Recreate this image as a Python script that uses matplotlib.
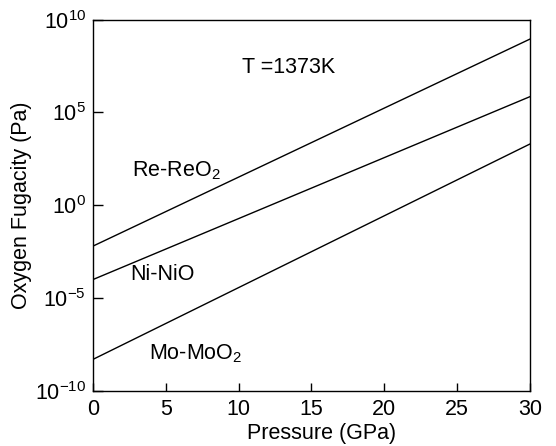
import numpy as np
import matplotlib
matplotlib.use("Agg")
import matplotlib.pyplot as plt
from matplotlib.ticker import NullLocator, FixedLocator

plt.rcParams['font.family'] = ['Liberation Sans', 'DejaVu Sans']
plt.rcParams['mathtext.fontset'] = 'custom'
plt.rcParams['mathtext.rm'] = 'Liberation Sans'
plt.rcParams['mathtext.it'] = 'Liberation Sans:italic'

# buffer end points (pressure in GPa, log10 fO2 in Pa)
pressure = [0, 30]
re_reo2 = [-2.2, 8.95]
ni_nio = [-4.0, 5.85]
mo_moo2 = [-8.3, 3.3]

FS = 15.5

fig = plt.figure(figsize=(5.56, 4.46), dpi=100)
ax = fig.add_axes([0.167, 0.1233, 0.786, 0.8327])

for vals in (re_reo2, ni_nio, mo_moo2):
    ax.plot(pressure, 10.0 ** np.array(vals), color='black', lw=1.0)

# labels (baseline positions)
ax.text(2.7, 10**1.54, "Re-ReO$_2$", fontsize=FS, ha='left', va='baseline')
ax.text(2.6, 10**-4.02, "Ni-NiO", fontsize=FS, ha='left', va='baseline')
ax.text(3.85, 10**-8.29, "Mo-MoO$_2$", fontsize=FS, ha='left', va='baseline')

ax.text(0.342, 0.856, "T =1373K", transform=ax.transAxes, fontsize=FS,
        ha='left', va='baseline')

ax.set_yscale('log')
ax.set_xlim(0, 30)
ax.set_ylim(1e-10, 1e10)
ax.yaxis.set_major_locator(FixedLocator([1e-10, 1e-5, 1e0, 1e5, 1e10]))
ax.yaxis.set_minor_locator(NullLocator())
ax.set_xticks([0, 5, 10, 15, 20, 25, 30])

ax.tick_params(direction='in', width=1, labelsize=FS, top=False, right=False)
ax.tick_params(axis='x', pad=6, length=6)
ax.tick_params(axis='y', pad=5, length=7.5)

ax.set_xlabel("Pressure (GPa)", fontsize=FS, labelpad=0)
ax.xaxis.set_label_coords(0.523, -0.085)
ax.set_ylabel("Oxygen Fugacity (Pa)", fontsize=FS, labelpad=2)

for s in ax.spines.values():
    s.set_linewidth(1.0)

fig.savefig("out.png", dpi=100)
